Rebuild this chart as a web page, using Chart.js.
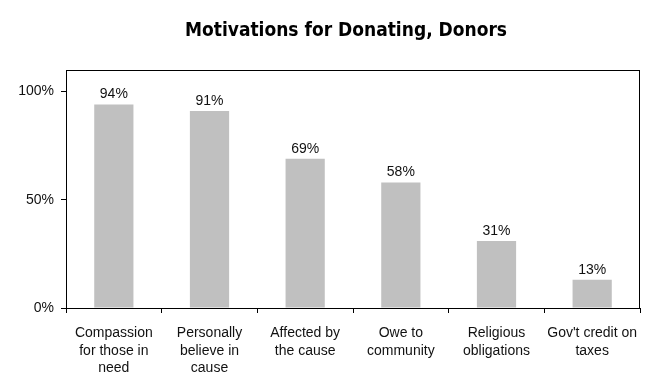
<!DOCTYPE html>
<html>
<head>
<meta charset="utf-8">
<script src="https://cdn.jsdelivr.net/npm/chart.js@4"></script>
<style>
  html, body { margin: 0; padding: 0; background: #fff; }
  #wrap { width: 653px; height: 379px; }
</style>
</head>
<body>
<div id="wrap"><canvas id="myChart" width="653" height="379"></canvas></div>
<script>
  const title = 'Motivations for Donating, Donors';
  const labels = [
    ['Compassion', 'for those in', 'need'],
    ['Personally', 'believe in', 'cause'],
    ['Affected by', 'the cause'],
    ['Owe to', 'community'],
    ['Religious', 'obligations'],
    ["Gov't credit on", 'taxes']
  ];
  const values = [94, 91, 69, 58, 31, 13];
  const yTicks = [0, 50, 100];

  // frame around the plot, value labels and the title
  const frame = {
    id: 'frame',
    afterDraw(chart) {
      const c = chart.ctx, a = chart.chartArea;
      c.save();
      c.strokeStyle = '#000';
      c.lineWidth = 1;
      c.strokeRect(Math.round(a.left) + 0.5, Math.round(a.top) + 0.5,
        Math.round(a.right - a.left) - 1, Math.round(a.bottom - a.top));

      const meta = chart.getDatasetMeta(0);
      c.fillStyle = '#111';
      c.font = '14px "Liberation Sans", Arial, sans-serif';
      c.textAlign = 'center';
      c.textBaseline = 'middle';
      meta.data.forEach((bar, i) => {
        c.fillText(values[i] + '%', bar.x, bar.y - 10);
      });

      c.fillStyle = '#000';
      c.font = 'bold 19px "DejaVu Sans Condensed", "DejaVu Sans", sans-serif';
      c.fillText(title, 346, 31);
      c.restore();
    }
  };

  const ctx = document.getElementById('myChart');
  new Chart(ctx, {
    type: 'bar',
    data: {
      labels: labels,
      datasets: [{
        data: values,
        backgroundColor: '#c0c0c0',
        borderWidth: 0,
        categoryPercentage: 1,
        barPercentage: 0.41
      }]
    },
    options: {
      responsive: false,
      animation: false,
      layout: { padding: { left: 0, right: 13, top: 70, bottom: 0 } },
      plugins: {
        legend: { display: false },
        tooltip: { enabled: false },
        title: { display: false }
      },
      scales: {
        y: {
          min: 0,
          max: 110,
          afterBuildTicks: (s) => { s.ticks = yTicks.map(v => ({ value: v })); },
          afterFit: (s) => { s.width = 66; },
          border: { display: false },
          grid: { drawOnChartArea: false, drawTicks: true, tickLength: 5, color: '#000' },
          ticks: {
            padding: 7,
            color: '#111',
            font: { family: '"Liberation Sans", Arial, sans-serif', size: 14 },
            callback: (v) => v + '%'
          }
        },
        x: {
          afterFit: (s) => { s.height = 71; },
          border: { display: false },
          grid: { drawOnChartArea: false, drawTicks: true, tickLength: 5, color: '#000', offset: true },
          ticks: {
            padding: 11,
            maxRotation: 0,
            autoSkip: false,
            color: '#111',
            font: { family: '"Liberation Sans", Arial, sans-serif', size: 14, lineHeight: 1.27 }
          }
        }
      }
    },
    plugins: [frame]
  });
</script>
</body>
</html>
